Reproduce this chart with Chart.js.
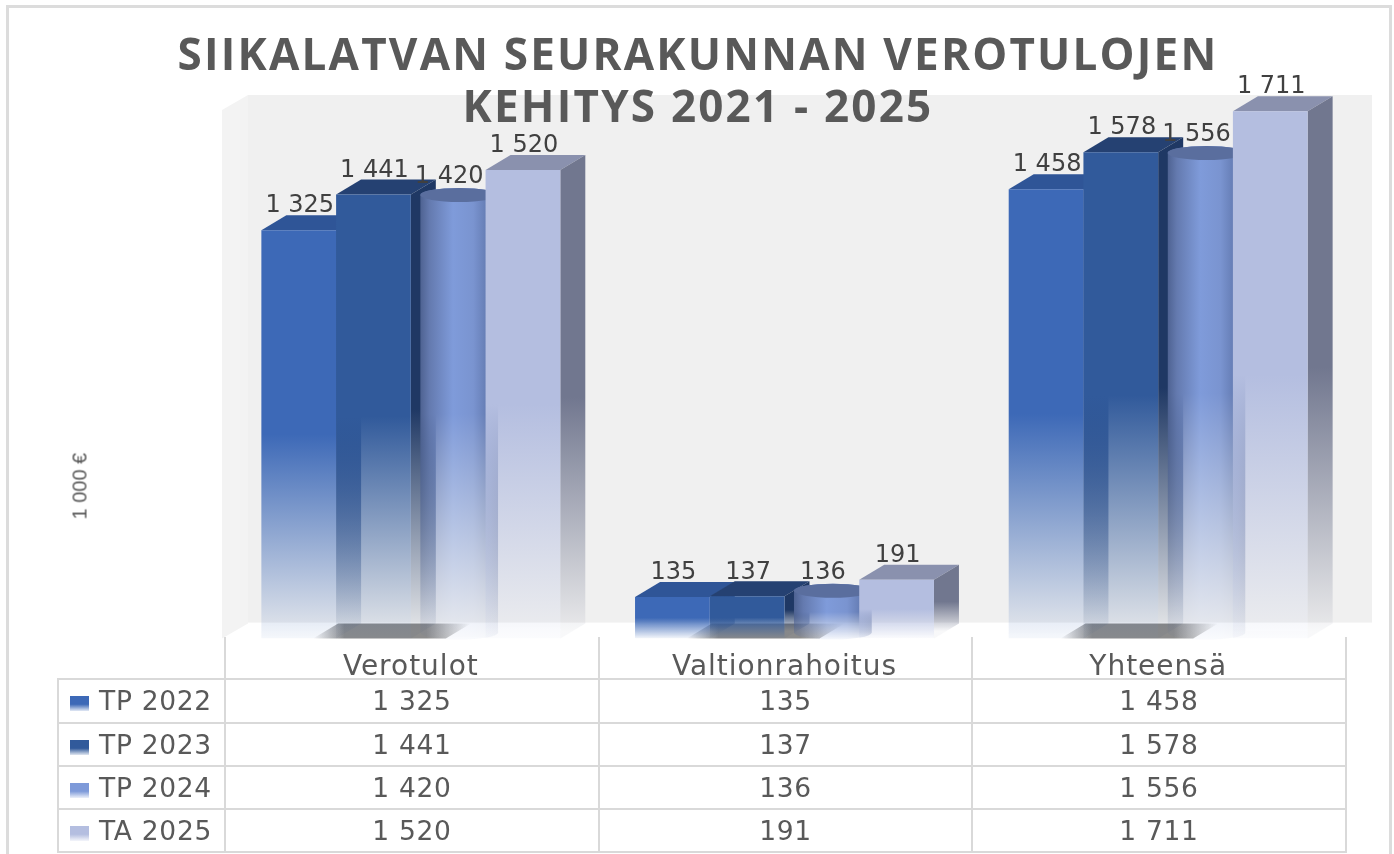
<!DOCTYPE html>
<html>
<head>
<meta charset="utf-8">
<title>Siikalatvan seurakunnan verotulojen kehitys</title>
<script src="https://cdn.jsdelivr.net/npm/chart.js@4"></script>
<style>
    html, body { margin: 0; padding: 0; background: #fff; width: 1394px; height: 854px; overflow: hidden; }
    canvas { position: absolute; left: 0; top: 0; }
    #frame { position: absolute; left: 6px; top: 5px; width: 1380px; height: 870px; border: 3px solid #dcdcdc; }
    #title { position: absolute; left: 0; top: 27px; width: 1396px; text-align: center; color: #595959;
             font: bold 44px/52px "Open Sans", sans-serif; letter-spacing: 2.2px; }
    #axisTitle { position: absolute; left: 50px; top: 478px; width: 60px; text-align: center; color: #595959;
                 font: 20px "Liberation Sans Narrow", "Liberation Sans", sans-serif; transform: rotate(-90deg); white-space: nowrap; }
    #dataTable { position: absolute; left: 57px; top: 637px; border-collapse: collapse; table-layout: fixed;
                 color: #595959; font: 26.5px "DejaVu Sans", sans-serif; letter-spacing: 0.7px; }
    #dataTable td { border: 2px solid #d9d9d9; padding: 0; text-align: center; height: 41.25px; }
    #dataTable tr:first-child td { border-top: none; }
    #dataTable tr:first-child td:first-child { border: none; }
    #dataTable td.key { text-align: left; white-space: nowrap; }
    .swatch { display: inline-block; width: 19px; height: 15px; margin: 0 10px 0 11px; vertical-align: -1px; }
</style>
</head>
<body>
<div id="frame"></div>
<canvas id="taxChart" width="1394" height="854"></canvas>
<div id="title">SIIKALATVAN SEURAKUNNAN VEROTULOJEN<br>KEHITYS 2021 - 2025</div>
<div id="axisTitle">1 000 €</div>
<table id="dataTable"></table>

<script>
const categories = ['Verotulot', 'Valtionrahoitus', 'Yhteensä'];
const seriesNames = ['TP 2022', 'TP 2023', 'TP 2024', 'TA 2025'];
const tp2022 = [1325, 135, 1458];
const tp2023 = [1441, 137, 1578];
const tp2024 = [1420, 136, 1556];
const ta2025 = [1520, 191, 1711];
const seriesValues = [tp2022, tp2023, tp2024, ta2025];

// front, top and side colours per series (r,g,b)
const frontColors = ['61,105,183', '49,90,155', '126,154,217', '180,190,224'];
const topColors = ['47,85,151', '37,65,114', '90,110,158', '138,145,174'];
const sideColors = ['36,66,120', '31,56,100', '60,75,115', '113,119,143'];

const DEPTH_X = 25;
const DEPTH_Y = 15;
const CYLINDER = 2; // TP 2024 is drawn as a cylinder

function formatValue(v) {
    return String(v).replace(/\B(?=(\d{3})+$)/g, ' ');
}

// bars are solid on the upper half and fade out towards the floor
function fadeAlpha(t) {
    if (t < 0.5) return 1;
    return 1 - (t - 0.5) / 0.5 * 0.96;
}

function fadeGradient(ctx, rgb, top, base) {
    const g = ctx.createLinearGradient(0, top, 0, base);
    g.addColorStop(0, `rgba(${rgb},1)`);
    g.addColorStop(0.5, `rgba(${rgb},1)`);
    g.addColorStop(1, `rgba(${rgb},0.05)`);
    return g;
}

function frontFill(c) {
    const rgb = frontColors[c.datasetIndex];
    if (c.datasetIndex === CYLINDER) return 'rgba(0,0,0,0)';
    const y = c.chart.scales.y;
    if (c.type !== 'data' || !y || !c.parsed) return `rgb(${rgb})`;
    const top = y.getPixelForValue(c.parsed.y);
    const base = y.getPixelForValue(0);
    // the scale has no size yet on the first pass
    if (!Number.isFinite(top) || !Number.isFinite(base)) return `rgb(${rgb})`;
    return fadeGradient(c.chart.ctx, rgb, top, base);
}

function drawBackWall(chart) {
    const ctx = chart.ctx;
    const { left, right, top, bottom } = chart.chartArea;
    ctx.save();
    ctx.fillStyle = '#f0f0f0';
    ctx.fillRect(left + DEPTH_X - 1, top - DEPTH_Y, right - left + 3, bottom - top - 1);
    ctx.fillStyle = '#f3f3f3';
    ctx.beginPath();
    ctx.moveTo(left - 2, top);
    ctx.lineTo(left + DEPTH_X - 1, top - DEPTH_Y);
    ctx.lineTo(left + DEPTH_X - 1, bottom - DEPTH_Y);
    ctx.lineTo(left - 2, bottom);
    ctx.closePath();
    ctx.fill();
    ctx.restore();
}

function drawFloorShadow(chart, bar) {
    const ctx = chart.ctx;
    const { bottom } = chart.chartArea;
    const x0 = bar.x - bar.width / 2 - 23;
    const x1 = bar.x + bar.width / 2 + 60;
    const g = ctx.createLinearGradient(x0, 0, x1, 0);
    g.addColorStop(0, 'rgba(140,140,140,0)');
    g.addColorStop(0.2, 'rgba(140,140,140,1)');
    g.addColorStop(0.72, 'rgba(140,140,140,1)');
    g.addColorStop(1, 'rgba(140,140,140,0)');
    ctx.fillStyle = g;
    ctx.beginPath();
    ctx.moveTo(x0, bottom);
    ctx.lineTo(x0 + DEPTH_X, bottom - DEPTH_Y);
    ctx.lineTo(x1, bottom - DEPTH_Y);
    ctx.lineTo(x1 - DEPTH_X, bottom);
    ctx.closePath();
    ctx.fill();
}

function drawBoxParts(ctx, bar, i) {
    const l = bar.x - bar.width / 2;
    const r = bar.x + bar.width / 2;
    const t = bar.y;
    const b = bar.base;
    // top face
    ctx.fillStyle = `rgb(${topColors[i]})`;
    ctx.beginPath();
    ctx.moveTo(l, t);
    ctx.lineTo(l + DEPTH_X, t - DEPTH_Y);
    ctx.lineTo(r + DEPTH_X, t - DEPTH_Y);
    ctx.lineTo(r, t);
    ctx.closePath();
    ctx.fill();
    // side face
    ctx.fillStyle = fadeGradient(ctx, sideColors[i], t - DEPTH_Y / 2, b - DEPTH_Y / 2);
    ctx.beginPath();
    ctx.moveTo(r, t);
    ctx.lineTo(r + DEPTH_X, t - DEPTH_Y);
    ctx.lineTo(r + DEPTH_X, b - DEPTH_Y);
    ctx.lineTo(r, b);
    ctx.closePath();
    ctx.fill();
}

function drawCylinder(ctx, bar, i) {
    const cx = bar.x + 11;
    const rx = 39;
    const ry = 7;
    const topY = bar.y - 6;
    const baseY = bar.base - 6;
    const g = ctx.createLinearGradient(cx - rx, 0, cx + rx, 0);
    g.addColorStop(0, 'rgb(78,98,145)');
    g.addColorStop(0.12, 'rgb(100,122,175)');
    g.addColorStop(0.42, 'rgb(127,155,218)');
    g.addColorStop(0.68, 'rgb(122,148,208)');
    g.addColorStop(0.9, 'rgb(95,118,172)');
    g.addColorStop(1, 'rgb(78,98,145)');

    ctx.save();
    ctx.beginPath();
    ctx.moveTo(cx - rx, topY);
    ctx.lineTo(cx - rx, baseY);
    ctx.ellipse(cx, baseY, rx, ry, 0, Math.PI, 0, true);
    ctx.lineTo(cx + rx, topY);
    ctx.ellipse(cx, topY, rx, ry, 0, 0, Math.PI, true);
    ctx.closePath();
    ctx.clip();
    ctx.fillStyle = g;
    // vertical fade has to be layered over the horizontal shading, strips on whole pixels so they don't band
    const start = Math.floor(topY - ry);
    const end = Math.ceil(baseY + ry);
    for (let y = start; y < end; y++) {
        ctx.globalAlpha = fadeAlpha((y - start) / (end - start));
        ctx.fillRect(cx - rx, y, rx * 2, 1);
    }
    ctx.restore();

    ctx.fillStyle = `rgb(${topColors[i]})`;
    ctx.beginPath();
    ctx.ellipse(cx, topY, rx, ry, 0, 0, Math.PI * 2);
    ctx.fill();
}

const bars3d = {
    id: 'bars3d',
    beforeDraw(chart) {
        drawBackWall(chart);
        chart.ctx.letterSpacing = '1px'; // for the category labels
    },
    beforeDatasetsDraw(chart) {
        const ctx = chart.ctx;
        ctx.letterSpacing = '0px';
        ctx.save();
        categories.forEach((cat, c) => {
            drawFloorShadow(chart, chart.getDatasetMeta(1).data[c]);
            seriesValues.forEach((vals, i) => {
                const bar = chart.getDatasetMeta(i).data[c];
                if (i === CYLINDER) drawCylinder(ctx, bar, i);
                else drawBoxParts(ctx, bar, i);
            });
        });
        ctx.restore();
    },
    afterDatasetsDraw(chart) {
        const ctx = chart.ctx;
        ctx.save();
        ctx.font = '24px "DejaVu Sans", sans-serif';
        ctx.fillStyle = '#404040';
        ctx.textAlign = 'center';
        ctx.textBaseline = 'middle';
        seriesValues.forEach((vals, i) => {
            chart.getDatasetMeta(i).data.forEach((bar, c) => {
                ctx.fillText(formatValue(vals[c]), bar.x + 1, bar.y - 24);
            });
        });
        ctx.restore();
    }
};

new Chart(document.getElementById('taxChart'), {
    type: 'bar',
    data: {
        labels: categories,
        datasets: seriesNames.map((name, i) => ({
            label: name,
            data: seriesValues[i],
            backgroundColor: frontFill,
            categoryPercentage: 0.8,
            barPercentage: 1
        }))
    },
    options: {
        responsive: false,
        animation: false,
        layout: { padding: { left: 224, right: 49, top: 110, bottom: 173.4 } },
        plugins: {
            legend: { display: false },
            title: { display: false },
            tooltip: { enabled: false }
        },
        scales: {
            x: {
                grid: { display: false },
                border: { display: false },
                ticks: {
                    color: '#595959',
                    font: { family: '"DejaVu Sans", sans-serif', size: 28 },
                    padding: 4,
                    maxRotation: 0,
                    autoSkip: false
                },
                afterFit(scale) { scale.height = 42; }
            },
            y: { display: false, min: 0, max: 1715 }
        }
    },
    plugins: [bars3d]
});

// data table under the chart, first row only carries the grid lines below the category labels
const table = document.getElementById('dataTable');
const colWidths = [167, 374, 373, 374];
const colgroup = document.createElement('colgroup');
colWidths.forEach(w => {
    const col = document.createElement('col');
    col.style.width = w + 'px';
    colgroup.appendChild(col);
});
table.appendChild(colgroup);
const headRow = table.insertRow();
colWidths.forEach(() => headRow.insertCell());
seriesNames.forEach((name, i) => {
    const row = table.insertRow();
    const key = row.insertCell();
    key.className = 'key';
    const swatch = document.createElement('span');
    swatch.className = 'swatch';
    swatch.style.background = `linear-gradient(rgb(${frontColors[i]}) 55%, rgba(${frontColors[i]},0.15))`;
    key.appendChild(swatch);
    key.appendChild(document.createTextNode(name));
    seriesValues[i].forEach(v => {
        row.insertCell().textContent = formatValue(v);
    });
});
</script>
</body>
</html>
